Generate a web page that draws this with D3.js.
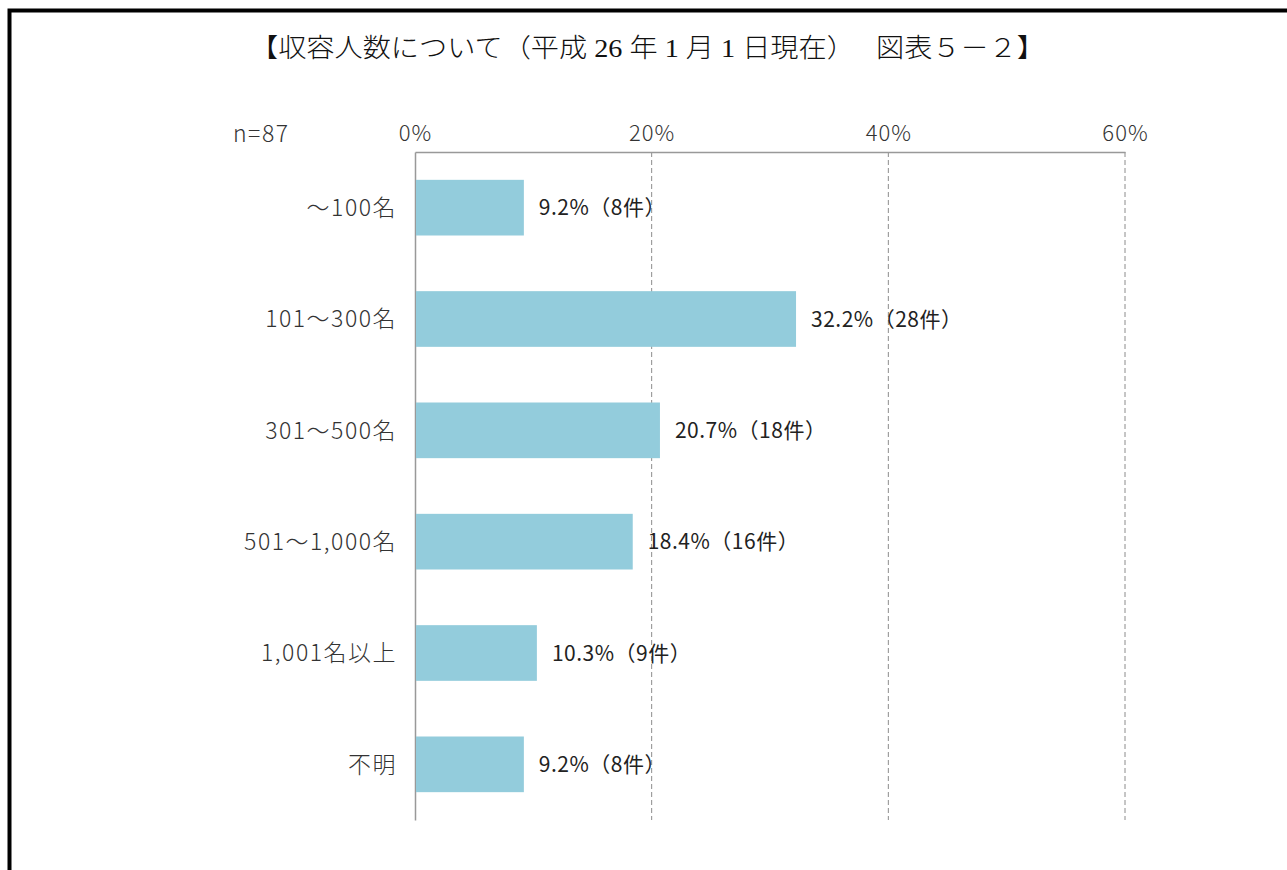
<!DOCTYPE html>
<html>
<head>
<meta charset="utf-8">
<script src="https://d3js.org/d3.v7.min.js"></script>
<style>
  body{ margin:0; background:#fff; }
  .axis path, .axis line{ fill:none; }
  .tick text{ font-family:"Noto Sans CJK JP", sans-serif; fill:#333; font-weight:300; }
</style>
</head>
<body>
<div id="chart"></div>
<script>
  // data
  var categories = ["～100名", "101～300名", "301～500名", "501～1,000名", "1,001名以上", "不明"];
  var percents = [9.2, 32.2, 20.7, 18.4, 10.3, 9.2];
  var counts = [8, 28, 18, 16, 9, 8];
  var xTicks = [0, 20, 40, 60];
  var titleText = "【収容人数について（平成 26 年 1 月 1 日現在）　 図表５－２】";
  var sampleText = "n=87";

  var W = 1287, H = 870;
  var margin = {top:152, left:415, right:162, bottom:50};

  var svg = d3.select("#chart").append("svg")
    .attr("width", W).attr("height", H);

  // frame
  svg.append("path")
    .attr("d", "M9.5," + H + " V10.5 H" + W)
    .attr("fill", "none").attr("stroke", "#000").attr("stroke-width", 4);

  svg.append("text")
    .attr("x", 250).attr("y", 57)
    .attr("textLength", 795).attr("lengthAdjust", "spacingAndGlyphs")
    .style("font-family", "'Liberation Serif', 'Noto Sans CJK JP', serif")
    .style("font-size", "26px").style("font-weight", "300").style("fill", "#111")
    .text(titleText);

  var x = d3.scaleLinear().domain([0, 60]).range([margin.left, 1125]);
  var y = d3.scaleBand().domain(categories).range([152, 820]).paddingInner(0.5).paddingOuter(0.25);

  // grid
  svg.append("g").selectAll("line").data(xTicks.slice(1)).join("line")
    .attr("x1", function(d){ return x(d); }).attr("x2", function(d){ return x(d); })
    .attr("y1", 152).attr("y2", 820)
    .attr("stroke", "#8c8c8c").attr("stroke-dasharray", "5,3");

  var xAxis = svg.append("g").attr("class", "axis")
    .attr("transform", "translate(0,152)")
    .call(d3.axisTop(x).tickValues(xTicks).tickSize(0).tickPadding(11)
      .tickFormat(function(d){ return d + "%"; }));
  xAxis.select(".domain").attr("stroke", "#999").attr("stroke-width", 1.5);
  xAxis.selectAll("text").style("font-size", "22px").style("letter-spacing", "1px");

  var yAxis = svg.append("g").attr("class", "axis")
    .attr("transform", "translate(" + margin.left + ",0)")
    .call(d3.axisLeft(y).tickSize(0).tickPadding(18));
  yAxis.select(".domain").attr("stroke", "#999").attr("stroke-width", 1.5);
  yAxis.selectAll("text").style("font-size", "23px").style("letter-spacing", "1.5px").attr("dy", "0.36em");

  svg.append("text")
    .attr("x", 233).attr("y", 142)
    .style("font-family", "'Noto Sans CJK JP', sans-serif")
    .style("font-size", "23px").style("font-weight", "300")
    .style("letter-spacing", "1.5px").style("fill", "#333")
    .text(sampleText);

  var rows = categories.map(function(c, i){ return {cat:c, pct:percents[i], n:counts[i]}; });

  svg.append("g").selectAll("rect").data(rows).join("rect")
    .attr("x", x(0) + 1).attr("y", function(d){ return y(d.cat); })
    .attr("width", function(d){ return x(d.pct) - x(0) - 1; })
    .attr("height", y.bandwidth())
    .attr("fill", "#93ccdc");

  svg.append("g").selectAll("text").data(rows).join("text")
    .attr("x", function(d){ return x(d.pct) + 15; })
    .attr("y", function(d){ return y(d.cat) + y.bandwidth() / 2; })
    .attr("dy", "0.36em")
    .style("font-family", "'Noto Sans CJK JP', sans-serif")
    .style("font-size", "21px").style("fill", "#222")
    .style("letter-spacing", "0.5px")
    .text(function(d){ return d.pct.toFixed(1) + "%（" + d.n + "件）"; });
</script>
</body>
</html>
